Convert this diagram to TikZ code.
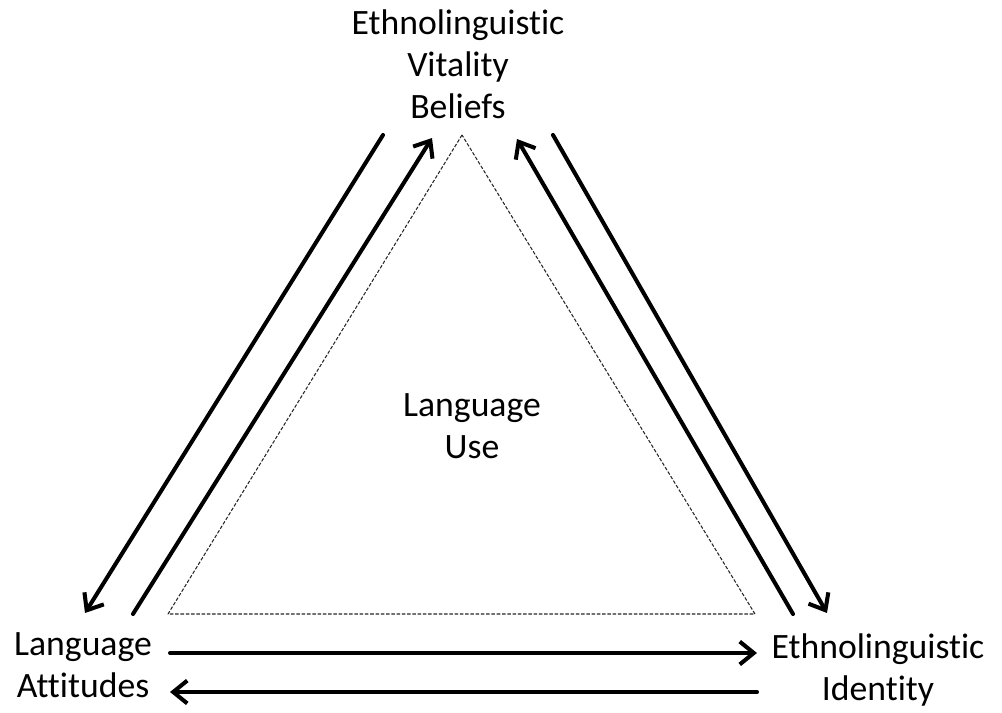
\documentclass[tikz,border=0pt]{standalone}
\usepackage{fontspec}
\setmainfont{Carlito}[Ligatures=NoCommon]
\usetikzlibrary{arrows.meta}
\tikzset{
    label/.style={font=\fontsize{20.3}{23.8}\selectfont, align=center, inner sep=0pt},
    arrowline/.style={line width=2.3pt, line cap=round, -{Straight Barb[length=8pt,width=13pt]}},
    plainline/.style={line width=2.3pt, line cap=round}
}
\begin{document}
\begin{tikzpicture}[
        x=0.02cm,
        y=-0.02cm,
        line join=round
    ]
        \useasboundingbox (0,0) rectangle (1002,713);
        % Labels
        \node[label] (vitality)  at (458,64)  {Ethnolinguistic\\Vitality\\Beliefs};
        \node[label] (attitudes) at (83,665)  {Language\\Attitudes};
        \node[label] (identity)  at (878,670) {Ethnolinguistic\\Identity};
        \node[label] (use)       at (472,426) {Language\\Use};
        % Inner triangle
        \coordinate (T0) at (462,135);
        \coordinate (T1) at (168,614);
        \coordinate (T2) at (755,614);
        \draw[line width=0.6pt, dash pattern=on 2pt off 1pt, black!85] (T0)--(T1)--(T2)--cycle;
        % Arrow ends, left side
        \coordinate (VL1) at (383,135);
        \coordinate (AL1) at (85,613);
        \coordinate (AL2) at (133,614);
        \coordinate (VL2) at (432,138);
        % Arrow ends, right side
        \coordinate (VR1) at (517,139);
        \coordinate (IR1) at (793,614);
        \coordinate (VR2) at (553,135);
        \coordinate (IR2) at (827,613);
        % Arrow ends, bottom
        \coordinate (AB1) at (170,653);
        \coordinate (IB1) at (757,653);
        \coordinate (IB2) at (757,692);
        \coordinate (AB2) at (170,692);
        % Arrows
        \draw[arrowline] (VL1) -- (AL1);
        \draw[arrowline] (AL2) -- (VL2);
        \draw[arrowline] (IR1) -- (VR1);
        \draw[arrowline] (VR2) -- (IR2);
        \draw[arrowline] (AB1) -- (IB1);
        \draw[arrowline] (IB2) -- (AB2);
    \end{tikzpicture}
\end{document}
